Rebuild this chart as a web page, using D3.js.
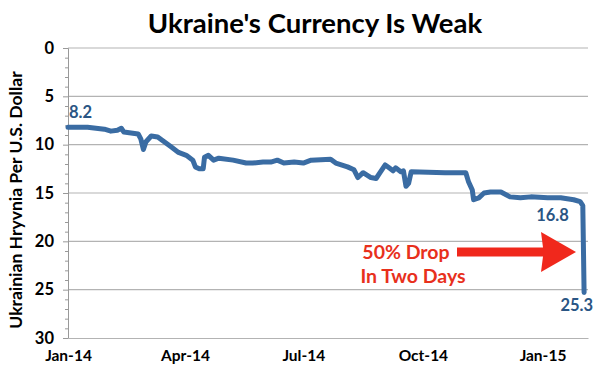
<!DOCTYPE html>
<html><head><meta charset="utf-8">
<script src="https://cdn.jsdelivr.net/npm/d3@7"></script>
<style>body{margin:0;background:#fff}svg{display:block}text{font-family:Lato,"Open Sans",sans-serif;font-weight:bold}</style>
</head><body><svg id="c" width="600" height="374"></svg>
<script>
const dates = ["2014-01-01","2014-01-16","2014-01-29","2014-02-03","2014-02-08","2014-02-11","2014-02-13","2014-02-24","2014-02-26","2014-02-28","2014-03-02","2014-03-06","2014-03-11","2014-03-16","2014-03-21","2014-03-27","2014-04-02","2014-04-07","2014-04-09","2014-04-12","2014-04-15","2014-04-16","2014-04-19","2014-04-23","2014-04-27","2014-05-08","2014-05-18","2014-05-23","2014-05-31","2014-06-06","2014-06-11","2014-06-16","2014-06-24","2014-07-01","2014-07-07","2014-07-22","2014-07-26","2014-08-04","2014-08-09","2014-08-12","2014-08-16","2014-08-22","2014-08-26","2014-08-29","2014-09-02","2014-09-05","2014-09-08","2014-09-10","2014-09-14","2014-09-16","2014-09-18","2014-09-20","2014-09-22","2014-10-18","2014-11-03","2014-11-05","2014-11-08","2014-11-09","2014-11-13","2014-11-17","2014-11-22","2014-11-30","2014-12-07","2014-12-15","2014-12-23","2015-01-05","2015-01-15","2015-01-25","2015-01-30","2015-02-01","2015-02-02"];
const values = [8.2,8.2,8.4,8.6,8.5,8.3,8.7,8.9,9.4,10.5,9.7,9.1,9.2,9.7,10.2,10.8,11.1,11.6,12.3,12.5,12.5,11.3,11.1,11.6,11.4,11.6,11.9,11.9,11.8,11.8,11.6,11.9,11.8,11.9,11.6,11.5,11.9,12.3,12.6,13.4,12.9,13.4,13.5,12.9,12.1,12.4,12.7,12.4,12.8,12.7,14.3,14.0,12.8,12.9,12.9,13.8,14.7,15.7,15.5,15.0,14.9,14.9,15.4,15.5,15.4,15.5,15.5,15.7,15.9,16.3,25.3];
const yTicks = [0,5,10,15,20,25,30];
const xTickDates = ["2014-01-01","2014-04-01","2014-07-01","2014-10-01","2015-01-01"];
const xTickLabels = ["Jan-14","Apr-14","Jul-14","Oct-14","Jan-15"];
const valueLabels = [{i:0,text:"8.2"},{i:69,text:"16.8"},{i:70,text:"25.3"}];
const title = "Ukraine's Currency Is Weak";
const yTitle = "Ukrainian Hryvnia Per U.S. Dollar";
const note = ["50% Drop","In Two Days"];

const parse = d3.utcParse("%Y-%m-%d");
const data = dates.map((d,i)=>({date:parse(d),v:values[i]}));
const svg = d3.select("#c");
const L=68,R=588,T=48,B=338;
const x = d3.scaleUtc().domain([parse("2014-01-01"),parse("2015-02-05")]).range([L,R]);
const y = d3.scaleLinear().domain([0,30]).range([T,B]);

svg.append("text").attr("x",315).attr("y",33).attr("text-anchor","middle").attr("font-size",27.5).attr("fill","#000").text(title);

// gridlines
svg.append("g").selectAll("line").data(yTicks.slice(0,-1)).join("line")
  .attr("x1",L).attr("x2",R).attr("y1",d=>y(d)).attr("y2",d=>y(d)).attr("stroke","#b3b3b3").attr("stroke-width",1.2);
// y axis
const ya = d3.axisLeft(y).tickValues(yTicks).tickSize(5).tickPadding(9);
const gy = svg.append("g").attr("transform",`translate(${L},0)`).call(ya);
gy.select(".domain").attr("stroke","#999");
gy.selectAll(".tick line").attr("stroke","#999");
gy.selectAll(".tick text").attr("font-size",16.5).attr("fill","#000").style("font-family","Lato").style("font-weight","bold");
const ym = d3.axisLeft(y).tickValues(d3.range(0,31,1).filter(v=>v%5)).tickSize(3).tickFormat("");
const gm = svg.append("g").attr("transform",`translate(${L},0)`).call(ym);
gm.select(".domain").remove(); gm.selectAll(".tick line").attr("stroke","#999");
// x axis
const xa = d3.axisBottom(x).tickValues(xTickDates.map(parse)).tickSize(0).tickPadding(12).tickFormat((d,i)=>xTickLabels[i]);
const gx = svg.append("g").attr("transform",`translate(0,${B})`).call(xa);
gx.select(".domain").attr("stroke","#b3b3b3").attr("stroke-width",1.2);
gx.selectAll(".tick text").attr("font-size",15.5).attr("fill","#000").style("font-family","Lato").style("font-weight","bold");

svg.append("text").attr("transform",`translate(22,200) rotate(-90)`).attr("text-anchor","middle").attr("font-size",17.5).attr("fill","#000").text(yTitle);

// line
svg.append("path").datum(data).attr("fill","none").attr("stroke","#3a6ca3").attr("stroke-width",5).attr("stroke-linejoin","round").attr("stroke-linecap","round")
  .attr("d",d3.line().x(d=>x(d.date)).y(d=>y(d.v)));

// value labels
const vl = [{dx:1,dy:-9,anchor:"start"},{dx:-14,dy:15,anchor:"end"},{dx:9,dy:18,anchor:"end"}];
valueLabels.forEach((l,k)=>{
  const d=data[l.i];
  svg.append("text").attr("x",x(d.date)+vl[k].dx).attr("y",y(d.v)+vl[k].dy).attr("text-anchor",vl[k].anchor)
    .attr("font-size",16.5).attr("fill","#2a5584").text(l.text);
});

// annotation
svg.append("text").attr("x",406).attr("y",259).attr("text-anchor","middle").attr("font-size",19.5).attr("fill","#e8301c").text(note[0]);
svg.append("text").attr("x",413).attr("y",283).attr("text-anchor","middle").attr("font-size",19.5).attr("fill","#e8301c").text(note[1]);
const ay=252;
svg.append("path").attr("fill","#f0281c")
  .attr("d",`M457,${ay-4.5}L543,${ay-4.5}L541,${ay-20}L576,${ay}L541,${ay+20}L543,${ay+4.5}L457,${ay+4.5}Z`);
</script></body></html>
